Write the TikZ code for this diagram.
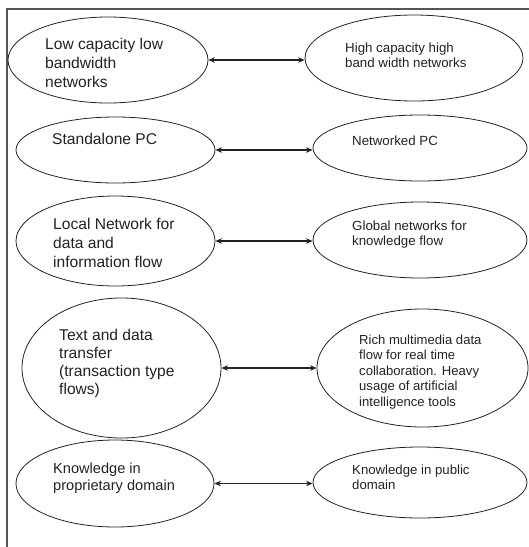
\documentclass[tikz,border=0pt]{standalone}
\usepackage{fontspec}
\setmainfont{Liberation Sans}
\usetikzlibrary{shapes.geometric,arrows.meta}
\definecolor{ink}{HTML}{222222}
\definecolor{rule}{HTML}{555555}
\newcommand{\stack}[1]{\begin{tabular}[t]{@{}l@{}}#1\end{tabular}}
\tikzset{
  oval/.style={ellipse, draw=ink, line width=0.8pt, inner sep=0pt},
  ltext/.style={anchor=base west, inner sep=0pt, text=ink,
                font=\fontsize{15.6}{19}\selectfont},
  rtext/.style={anchor=base west, inner sep=0pt, text=ink,
                font=\fontsize{13.3}{15.5}\selectfont},
  link/.style={{Stealth[length=6.5pt,width=5.5pt]}-{Stealth[length=6.5pt,width=5.5pt]},
               line width=1.1pt, draw=ink},
  frame/.style={draw=rule, line width=1.2pt}
}
\begin{document}
\begin{tikzpicture}[x=1pt,y=-1pt]
\useasboundingbox (0,0) rectangle (529,547);
% open frame: left and top edges only
\coordinate (fb) at (7,547);
\coordinate (fc) at (7,9);
\coordinate (fr) at (529,9);
\draw[frame] (fb) -- (fc) -- (fr);

% ovals, left column
\node[oval, minimum width=200pt, minimum height=86pt]  (l1) at (108,60) {};
\node[oval, minimum width=199pt, minimum height=66pt]  (l2) at (115.5,150) {};
\node[oval, minimum width=199pt, minimum height=90pt]  (l3) at (115.5,241) {};
\node[oval, minimum width=199pt, minimum height=140pt] (l4) at (121.5,368) {};
\node[oval, minimum width=198pt, minimum height=87pt]  (l5) at (115,483.5) {};

% ovals, right column
\node[oval, minimum width=218pt, minimum height=86pt]  (r1) at (414,58) {};
\node[oval, minimum width=214pt, minimum height=66pt]  (r2) at (420,148) {};
\node[oval, minimum width=214pt, minimum height=76pt]  (r3) at (420,240) {};
\node[oval, minimum width=211pt, minimum height=118pt] (r4) at (422.5,368) {};
\node[oval, minimum width=214pt, minimum height=71pt]  (r5) at (420,482.5) {};

% labels, left column
\node[ltext] (t1) at (45,49)  {\stack{Low capacity low\\bandwidth\\networks}};
\node[ltext] (t2) at (52,144) {\stack{Standalone PC}};
\node[ltext] (t3) at (53,229) {\stack{Local Network for\\data and\\information flow}};
\node[ltext, font=\fontsize{15.6}{18}\selectfont] (t4) at (59,340)
  {\stack{Text and data\\transfer\\(transaction type\\flows)}};
\node[ltext, font=\fontsize{14.6}{17}\selectfont] (t5) at (53,473)
  {\stack{Knowledge in\\proprietary domain}};

% labels, right column
\node[rtext] (u1) at (345,52)  {\stack{High capacity high\\band width networks}};
\node[rtext] (u2) at (352,145) {\stack{Networked PC}};
\node[rtext] (u3) at (352,230) {\stack{Global networks for\\knowledge flow}};
\node[rtext, font=\fontsize{13.1}{15.5}\selectfont] (u4) at (359,344)
  {\stack{Rich multimedia data\\flow for real time\\collaboration. Heavy\\usage of artificial\\intelligence tools}};
\node[rtext, font=\fontsize{13.2}{15}\selectfont] (u5) at (352,474)
  {\stack{Knowledge in public\\domain}};

% two-way links
\draw[link] (l1.east) -- (l1.east -| r1.west);
\draw[link] (l2.east) -- (l2.east -| r2.west);
\draw[link] (l3.east) -- (l3.east -| r3.west);
\draw[link] (l4.east) -- (l4.east -| r4.west);
\draw[link] (l5.east) -- (l5.east -| r5.west);
\end{tikzpicture}
\end{document}
